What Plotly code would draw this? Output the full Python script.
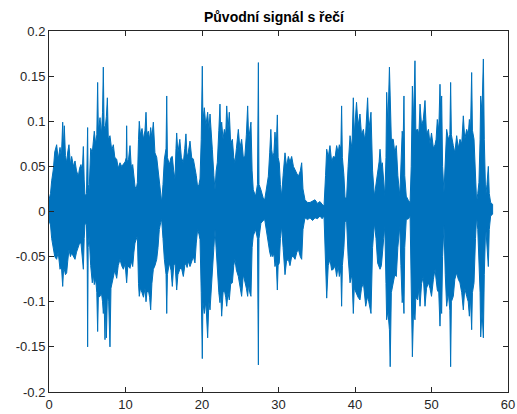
import plotly.graph_objects as go

# Upper envelope of the speech signal (time [s], amplitude)
upper_env = [
    (0.00, 0.013), (0.20, 0.020), (0.35, 0.034), (0.57, 0.047), (0.75, 0.066), (1.00, 0.074),
    (1.20, 0.058), (1.44, 0.071), (1.62, 0.060), (1.79, 0.099), (1.90, 0.070), (2.00, 0.095),
    (2.15, 0.062), (2.31, 0.054), (2.45, 0.066), (2.61, 0.074), (2.80, 0.052), (2.96, 0.061),
    (3.20, 0.050), (3.40, 0.056), (3.60, 0.045), (3.83, 0.039), (4.00, 0.048), (4.18, 0.052),
    (4.35, 0.044), (4.49, 0.072), (4.60, 0.035), (4.71, 0.017), (4.90, 0.020), (5.00, 0.050),
    (5.05, 0.093), (5.12, 0.030), (5.25, 0.024), (5.45, 0.070), (5.66, 0.065), (5.80, 0.078),
    (5.92, 0.089), (6.10, 0.075), (6.25, 0.085), (6.36, 0.143), (6.45, 0.090), (6.67, 0.104),
    (6.85, 0.085), (7.00, 0.110), (7.10, 0.160), (7.20, 0.095), (7.32, 0.091), (7.50, 0.105),
    (7.63, 0.126), (7.75, 0.080), (7.97, 0.084), (8.20, 0.068), (8.41, 0.074), (8.60, 0.060),
    (8.85, 0.058), (9.05, 0.048), (9.28, 0.054), (9.50, 0.050), (9.72, 0.052), (9.95, 0.055),
    (10.10, 0.060), (10.15, 0.095), (10.22, 0.055), (10.40, 0.058), (10.59, 0.073), (10.75, 0.050),
    (10.94, 0.052), (11.10, 0.040), (11.24, 0.028), (11.40, 0.025), (11.55, 0.032), (11.70, 0.080),
    (11.80, 0.100), (11.95, 0.085), (12.16, 0.092), (12.35, 0.080), (12.55, 0.090), (12.68, 0.110),
    (12.80, 0.085), (12.98, 0.089), (13.15, 0.080), (13.29, 0.093), (13.45, 0.082), (13.64, 0.099),
    (13.85, 0.065), (14.08, 0.060), (14.25, 0.045), (14.42, 0.032), (14.60, 0.015), (14.73, 0.010),
    (14.90, 0.030), (15.08, 0.058), (15.30, 0.070), (15.39, 0.128), (15.48, 0.060), (15.73, 0.052),
    (15.95, 0.060), (16.12, 0.061), (16.30, 0.045), (16.47, 0.036), (16.60, 0.070), (16.69, 0.087),
    (16.85, 0.065), (17.10, 0.080), (17.30, 0.060), (17.56, 0.054), (17.75, 0.070), (17.90, 0.086),
    (18.05, 0.060), (18.20, 0.065), (18.43, 0.078), (18.65, 0.060), (18.87, 0.058), (19.08, 0.049),
    (19.25, 0.040), (19.43, 0.027), (19.60, 0.030), (19.74, 0.036), (19.90, 0.080), (20.04, 0.161),
    (20.12, 0.100), (20.30, 0.115), (20.50, 0.095), (20.74, 0.110), (20.90, 0.090), (21.05, 0.108),
    (21.20, 0.080), (21.35, 0.069), (21.55, 0.040), (21.70, 0.024), (21.85, 0.045), (22.00, 0.054),
    (22.20, 0.090), (22.35, 0.119), (22.45, 0.085), (22.57, 0.099), (22.75, 0.080), (22.92, 0.091),
    (23.10, 0.085), (23.23, 0.117), (23.40, 0.090), (23.57, 0.110), (23.75, 0.075), (23.97, 0.080),
    (24.15, 0.060), (24.30, 0.054), (24.50, 0.070), (24.75, 0.091), (24.95, 0.070), (25.18, 0.080),
    (25.40, 0.060), (25.60, 0.061), (25.80, 0.085), (25.97, 0.117), (26.10, 0.080), (26.25, 0.090),
    (26.40, 0.099), (26.55, 0.045), (26.70, 0.024), (27.00, 0.017), (27.25, 0.030), (27.37, 0.165),
    (27.45, 0.030), (27.70, 0.024), (28.00, 0.015), (28.20, 0.013), (28.45, 0.025), (28.67, 0.039),
    (28.85, 0.065), (29.00, 0.091), (29.10, 0.069), (29.25, 0.060), (29.40, 0.065), (29.54, 0.088),
    (29.70, 0.070), (29.85, 0.107), (29.95, 0.060), (30.10, 0.054), (30.25, 0.030), (30.41, 0.017),
    (30.60, 0.040), (30.85, 0.065), (31.05, 0.050), (31.29, 0.061), (31.50, 0.055), (31.72, 0.061),
    (31.95, 0.050), (32.16, 0.047), (32.40, 0.042), (32.60, 0.039), (32.85, 0.045), (33.03, 0.054),
    (33.20, 0.025), (33.46, 0.013), (33.80, 0.010), (34.12, 0.010), (34.45, 0.012), (34.77, 0.013),
    (35.10, 0.009), (35.42, 0.011), (35.70, 0.008), (35.95, 0.006), (36.15, 0.040), (36.30, 0.069),
    (36.50, 0.060), (36.73, 0.073), (36.95, 0.055), (37.17, 0.061), (37.40, 0.060), (37.60, 0.073),
    (37.80, 0.065), (37.95, 0.074), (38.15, 0.070), (38.25, 0.117), (38.35, 0.060), (38.55, 0.040),
    (38.70, 0.015), (38.90, 0.015), (39.10, 0.050), (39.35, 0.084), (39.60, 0.070), (39.78, 0.126),
    (39.90, 0.085), (40.20, 0.121), (40.40, 0.095), (40.65, 0.108), (40.85, 0.085), (41.10, 0.091),
    (41.25, 0.080), (41.40, 0.087), (41.65, 0.126), (41.80, 0.090), (42.09, 0.110), (42.30, 0.045),
    (42.53, 0.017), (42.75, 0.030), (42.96, 0.047), (43.15, 0.055), (43.27, 0.069), (43.45, 0.050),
    (43.57, 0.054), (43.75, 0.030), (43.90, 0.017), (44.05, 0.060), (44.14, 0.132), (44.30, 0.095),
    (44.50, 0.160), (44.60, 0.128), (44.75, 0.080), (45.00, 0.080), (45.20, 0.065), (45.40, 0.073),
    (45.60, 0.040), (45.86, 0.017), (46.00, 0.050), (46.17, 0.089), (46.30, 0.080), (46.40, 0.128),
    (46.50, 0.040), (46.70, 0.017), (47.00, 0.012), (47.20, 0.010), (47.35, 0.050), (47.50, 0.139),
    (47.65, 0.100), (47.84, 0.167), (47.95, 0.090), (48.20, 0.091), (48.35, 0.085), (48.50, 0.119),
    (48.70, 0.095), (48.93, 0.102), (49.15, 0.123), (49.35, 0.085), (49.60, 0.091), (49.80, 0.075),
    (50.00, 0.087), (50.25, 0.070), (50.46, 0.074), (50.60, 0.080), (50.76, 0.102), (50.95, 0.090),
    (51.11, 0.141), (51.20, 0.110), (51.33, 0.128), (51.45, 0.050), (51.63, 0.021), (51.80, 0.060),
    (51.98, 0.091), (52.20, 0.080), (52.40, 0.085), (52.50, 0.143), (52.60, 0.085), (52.85, 0.073),
    (53.05, 0.065), (53.29, 0.084), (53.50, 0.070), (53.72, 0.080), (53.95, 0.075), (54.16, 0.106),
    (54.35, 0.080), (54.60, 0.091), (54.80, 0.085), (54.95, 0.102), (55.10, 0.090), (55.25, 0.154),
    (55.35, 0.090), (55.56, 0.080), (55.75, 0.030), (55.90, 0.010), (56.05, 0.020), (56.20, 0.032),
    (56.35, 0.080), (56.43, 0.128), (56.60, 0.110), (56.78, 0.169), (56.90, 0.080), (57.08, 0.017),
    (57.25, 0.030), (57.43, 0.050), (57.55, 0.020), (57.73, 0.010), (57.99, 0.008),
]

# Lower envelope of the speech signal (time [s], amplitude)
lower_env = [
    (0.00, -0.010), (0.20, -0.015), (0.35, -0.030), (0.57, -0.040), (0.75, -0.050), (1.00, -0.053),
    (1.20, -0.045), (1.44, -0.064), (1.62, -0.060), (1.79, -0.083), (1.90, -0.065), (2.00, -0.064),
    (2.15, -0.070), (2.31, -0.068), (2.45, -0.055), (2.61, -0.042), (2.80, -0.050), (2.96, -0.046),
    (3.20, -0.050), (3.40, -0.053), (3.60, -0.045), (3.83, -0.039), (4.00, -0.035), (4.18, -0.035),
    (4.35, -0.045), (4.49, -0.064), (4.60, -0.030), (4.71, -0.013), (4.90, -0.015), (5.00, -0.060),
    (5.05, -0.150), (5.12, -0.040), (5.25, -0.027), (5.45, -0.060), (5.66, -0.079), (5.80, -0.070),
    (5.92, -0.081), (6.10, -0.075), (6.25, -0.090), (6.36, -0.133), (6.45, -0.095), (6.67, -0.094),
    (6.85, -0.090), (7.00, -0.100), (7.10, -0.113), (7.20, -0.100), (7.32, -0.142), (7.40, -0.100),
    (7.50, -0.140), (7.63, -0.094), (7.80, -0.100), (7.97, -0.150), (8.10, -0.085), (8.41, -0.072),
    (8.60, -0.065), (8.85, -0.074), (9.05, -0.060), (9.28, -0.053), (9.50, -0.060), (9.72, -0.064),
    (9.95, -0.058), (10.15, -0.079), (10.30, -0.060), (10.59, -0.063), (10.75, -0.055), (10.94, -0.061),
    (11.10, -0.045), (11.24, -0.035), (11.40, -0.030), (11.55, -0.027), (11.70, -0.080), (11.80, -0.094),
    (11.95, -0.085), (12.16, -0.090), (12.35, -0.095), (12.55, -0.085), (12.68, -0.100), (12.80, -0.090),
    (12.98, -0.087), (13.15, -0.095), (13.29, -0.109), (13.45, -0.080), (13.64, -0.064), (13.85, -0.060),
    (14.08, -0.053), (14.25, -0.040), (14.42, -0.020), (14.60, -0.012), (14.73, -0.009), (14.90, -0.030),
    (15.08, -0.053), (15.30, -0.070), (15.39, -0.113), (15.48, -0.070), (15.73, -0.057), (15.95, -0.065),
    (16.12, -0.083), (16.30, -0.060), (16.47, -0.057), (16.60, -0.070), (16.69, -0.087), (16.85, -0.070),
    (17.10, -0.064), (17.30, -0.062), (17.56, -0.072), (17.75, -0.060), (17.90, -0.057), (18.05, -0.062),
    (18.20, -0.055), (18.43, -0.061), (18.65, -0.055), (18.87, -0.050), (19.08, -0.057), (19.25, -0.035),
    (19.43, -0.020), (19.60, -0.025), (19.74, -0.031), (19.90, -0.090), (20.04, -0.163), (20.12, -0.100),
    (20.30, -0.113), (20.50, -0.100), (20.74, -0.140), (20.90, -0.100), (21.05, -0.109), (21.20, -0.085),
    (21.35, -0.072), (21.55, -0.040), (21.70, -0.020), (21.85, -0.040), (22.00, -0.057), (22.20, -0.090),
    (22.35, -0.101), (22.45, -0.090), (22.57, -0.116), (22.75, -0.090), (22.92, -0.087), (23.10, -0.095),
    (23.23, -0.105), (23.40, -0.090), (23.57, -0.098), (23.75, -0.080), (23.97, -0.079), (24.15, -0.060),
    (24.30, -0.053), (24.50, -0.065), (24.75, -0.072), (24.95, -0.080), (25.18, -0.094), (25.40, -0.070),
    (25.60, -0.076), (25.80, -0.085), (25.97, -0.094), (26.10, -0.080), (26.25, -0.090), (26.40, -0.094),
    (26.55, -0.040), (26.70, -0.027), (27.00, -0.020), (27.25, -0.030), (27.37, -0.170), (27.45, -0.030),
    (27.70, -0.013), (28.00, -0.010), (28.20, -0.009), (28.45, -0.025), (28.67, -0.035), (28.85, -0.045),
    (29.00, -0.050), (29.10, -0.046), (29.25, -0.050), (29.40, -0.046), (29.54, -0.061), (29.70, -0.055),
    (29.85, -0.087), (29.95, -0.060), (30.10, -0.057), (30.25, -0.030), (30.41, -0.016), (30.60, -0.040),
    (30.85, -0.070), (31.05, -0.055), (31.29, -0.053), (31.50, -0.060), (31.72, -0.050), (31.95, -0.050),
    (32.16, -0.053), (32.40, -0.045), (32.60, -0.042), (32.85, -0.050), (33.03, -0.053), (33.20, -0.020),
    (33.46, -0.007), (33.80, -0.009), (34.12, -0.007), (34.45, -0.010), (34.77, -0.007), (35.10, -0.008),
    (35.42, -0.005), (35.70, -0.008), (35.95, -0.005), (36.15, -0.050), (36.30, -0.096), (36.50, -0.060),
    (36.73, -0.053), (36.95, -0.065), (37.17, -0.064), (37.40, -0.060), (37.60, -0.072), (37.80, -0.060),
    (37.95, -0.072), (38.15, -0.065), (38.25, -0.105), (38.35, -0.060), (38.55, -0.040), (38.70, -0.012),
    (38.90, -0.010), (39.10, -0.050), (39.35, -0.079), (39.60, -0.070), (39.78, -0.113), (39.90, -0.085),
    (40.20, -0.090), (40.40, -0.095), (40.65, -0.098), (40.85, -0.085), (41.10, -0.079), (41.25, -0.090),
    (41.40, -0.105), (41.65, -0.094), (41.80, -0.100), (42.09, -0.113), (42.30, -0.040), (42.53, -0.013),
    (42.75, -0.030), (42.96, -0.057), (43.15, -0.060), (43.27, -0.064), (43.45, -0.060), (43.57, -0.053),
    (43.75, -0.030), (43.90, -0.016), (44.05, -0.080), (44.14, -0.120), (44.30, -0.110), (44.50, -0.131),
    (44.60, -0.172), (44.75, -0.090), (45.00, -0.079), (45.20, -0.070), (45.40, -0.072), (45.60, -0.040),
    (45.86, -0.016), (46.00, -0.060), (46.17, -0.101), (46.30, -0.090), (46.40, -0.113), (46.50, -0.040),
    (46.70, -0.009), (47.00, -0.008), (47.20, -0.005), (47.35, -0.090), (47.50, -0.161), (47.65, -0.110),
    (47.84, -0.120), (47.95, -0.095), (48.20, -0.098), (48.35, -0.085), (48.50, -0.105), (48.70, -0.080),
    (48.93, -0.072), (49.15, -0.105), (49.35, -0.085), (49.60, -0.079), (49.80, -0.085), (50.00, -0.094),
    (50.25, -0.075), (50.46, -0.064), (50.60, -0.075), (50.76, -0.087), (50.95, -0.090), (51.11, -0.127),
    (51.20, -0.100), (51.33, -0.113), (51.45, -0.050), (51.63, -0.016), (51.80, -0.070), (51.98, -0.105),
    (52.20, -0.090), (52.40, -0.110), (52.50, -0.172), (52.60, -0.100), (52.85, -0.094), (53.05, -0.075),
    (53.29, -0.068), (53.50, -0.075), (53.72, -0.079), (53.95, -0.090), (54.16, -0.109), (54.35, -0.085),
    (54.60, -0.094), (54.80, -0.100), (54.95, -0.116), (55.10, -0.095), (55.25, -0.131), (55.35, -0.090),
    (55.56, -0.079), (55.75, -0.030), (55.90, -0.005), (56.05, -0.020), (56.20, -0.039), (56.35, -0.090),
    (56.43, -0.139), (56.60, -0.110), (56.78, -0.140), (56.90, -0.070), (57.08, -0.016), (57.25, -0.030),
    (57.43, -0.061), (57.55, -0.020), (57.73, -0.005), (57.99, -0.003),
]

x_tick_vals = [0, 10, 20, 30, 40, 50, 60]
y_tick_vals = [-0.2, -0.15, -0.1, -0.05, 0, 0.05, 0.1, 0.15, 0.2]
y_tick_text = ["-0.2", "-0.15", "-0.1", "-0.05", "0", "0.05", "0.1", "0.15", "0.2"]
title_text = "Původní signál s řečí"

line_color = "#0072BD"
axis_color = "#262626"

t_up = [p[0] for p in upper_env]
v_up = [p[1] for p in upper_env]
t_lo = [p[0] for p in lower_env]
v_lo = [p[1] for p in lower_env]

poly_x = t_up + t_lo[::-1]
poly_y = v_up + v_lo[::-1]

fig = go.Figure()
fig.add_trace(go.Scatter(
    x=poly_x, y=poly_y, mode="lines", fill="toself",
    fillcolor=line_color, line=dict(color=line_color, width=1),
    hoverinfo="skip", showlegend=False,
))

font_family = "Liberation Sans, Arial, Helvetica, sans-serif"
fig.update_layout(
    width=517, height=414,
    margin=dict(l=49, r=9, t=31, b=22),
    paper_bgcolor="white", plot_bgcolor="white",
    font=dict(family=font_family, size=13, color=axis_color),
    title=dict(text="<b>" + title_text + "</b>", x=274 / 517, xanchor="center",
               y=1 - 17 / 414, yanchor="middle",
               font=dict(family=font_family, size=14, color="#000000")),
    showlegend=False,
)
fig.update_xaxes(
    range=[0, 60], tickvals=x_tick_vals, ticks="inside", ticklen=5, tickwidth=1,
    tickcolor=axis_color, showline=True, linecolor=axis_color, linewidth=1,
    mirror="ticks", showgrid=False, zeroline=False, automargin=False,
    tickfont=dict(size=13, color=axis_color),
)
fig.update_yaxes(
    range=[-0.2, 0.2], tickvals=y_tick_vals, ticktext=y_tick_text, ticks="inside", ticklen=5,
    tickwidth=1, tickcolor=axis_color, showline=True, linecolor=axis_color, linewidth=1,
    mirror="ticks", showgrid=False, zeroline=False, automargin=False,
    tickfont=dict(size=13, color=axis_color),
)

fig.write_html("out.html")
